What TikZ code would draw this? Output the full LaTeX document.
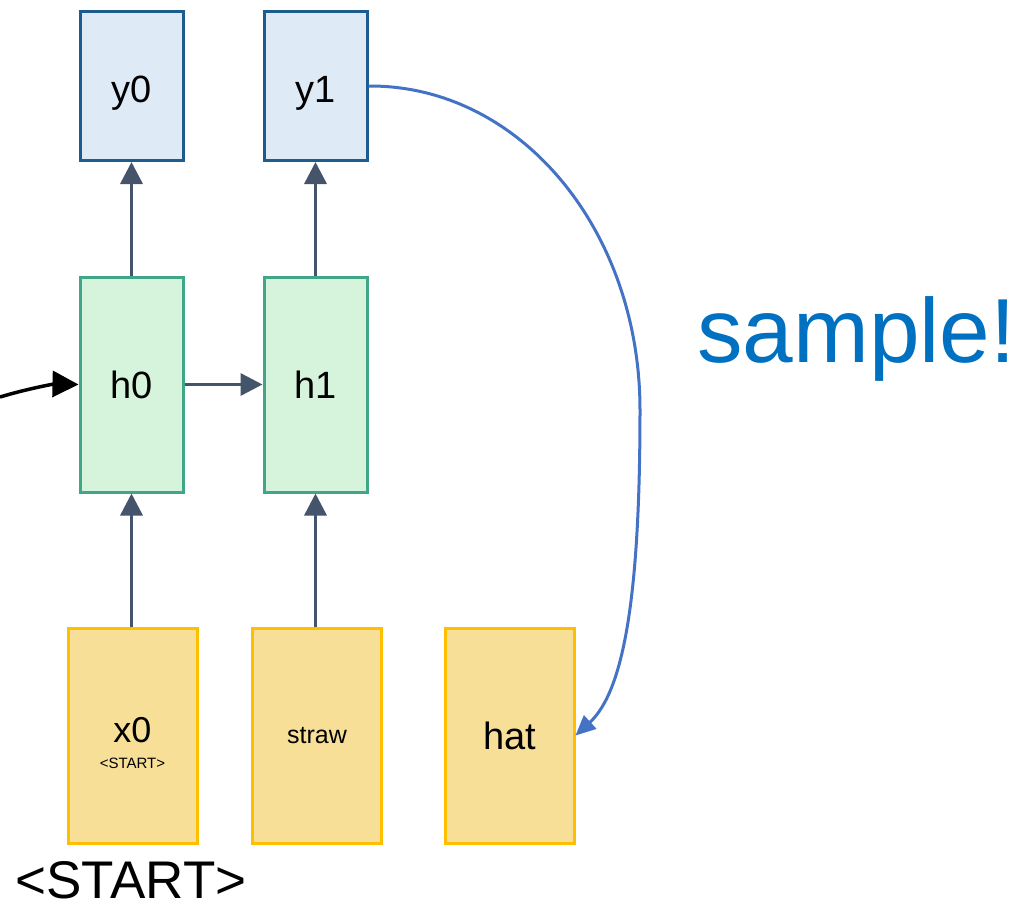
\documentclass[tikz,border=0pt]{standalone}
\usepackage{fontspec}
\setmainfont{Liberation Sans}
\usetikzlibrary{arrows.meta}

\definecolor{ydraw}{HTML}{1F5C8E}
\definecolor{yfill}{HTML}{DEEAF6}
\definecolor{hdraw}{HTML}{3FA688}
\definecolor{hfill}{HTML}{D5F4DB}
\definecolor{xdraw}{HTML}{FFBF00}
\definecolor{xfill}{HTML}{F8DF98}
\definecolor{linkgray}{HTML}{44546A}
\definecolor{sampleblue}{HTML}{4472C4}
\definecolor{textblue}{HTML}{0070C0}

\begin{document}
\begin{tikzpicture}[x=1pt, y=-1pt,
  ybox/.style={draw=ydraw, fill=yfill, line width=3pt, minimum width=103pt,
               minimum height=149pt, inner sep=0pt, font=\fontsize{38}{40}\selectfont},
  hbox/.style={draw=hdraw, fill=hfill, line width=3pt, minimum width=103pt,
               minimum height=215pt, inner sep=0pt, font=\fontsize{38}{40}\selectfont},
  xbox/.style={draw=xdraw, fill=xfill, line width=3pt, minimum width=129pt,
               minimum height=215pt, inner sep=0pt, font=\fontsize{38}{40}\selectfont},
  link/.style={draw=linkgray, line width=3.5pt,
               -{Triangle[length=22pt, width=22pt]}}]
  \useasboundingbox (0,0) rectangle (1026,908);

  % outputs
  \node[ybox] (y0) at (131.5,86) {};
  \node[ybox] (y1) at (315.5,86) {};
  \node[font=\fontsize{38}{40}\selectfont, anchor=base] (y0lbl) at (131.5,102) {y0};
  \node[font=\fontsize{38}{40}\selectfont, anchor=base] (y1lbl) at (315.5,102) {y1};
  % hidden states
  \node[hbox] (h0) at (131.5,384.5) {h0};
  \node[hbox] (h1) at (315.5,384.5) {h1};
  % inputs
  \node[xbox] (x0) at (132.5,735.5) {};
  \node[font=\fontsize{36}{38}\selectfont, anchor=base] (x0lbl) at (132.5,742) {x0};
  \node[font=\fontsize{15}{16}\selectfont, anchor=base] (x0tag) at (132.5,768) {<START>};
  \node[xbox, font=\fontsize{25}{27}\selectfont] (straw) at (317,735.5) {straw};
  \node[xbox] (hat) at (509.5,735.5) {hat};

  % labels
  \node[font=\fontsize{53}{55}\selectfont, anchor=base] (startlbl) at (131,898) {<START>};
  \node[font=\fontsize{91}{93}\selectfont, text=textblue, anchor=base west, inner sep=0pt]
    (samplelbl) at (697,362) {sample!};

  % connections
  \draw[link] (x0.north -| h0.south) -- (h0.south);
  \draw[link] (straw.north -| h1.south) -- (h1.south);
  \draw[link] (h0.north) -- (y0.south);
  \draw[link] (h1.north) -- (y1.south);
  \draw[link] (h0.east) -- (h1.west);

  % incoming state
  \coordinate (prev) at (0,397);
  \draw[line width=3.5pt, -{Triangle[length=26pt, width=26pt]}]
    (prev) .. controls (30,388) and (55,384) .. (h0.west);

  % sampled word fed back
  \draw[draw=sampleblue, line width=3pt, -{Triangle[length=20pt, width=18pt]}]
    (y1.east) .. controls (520,85) and (640,230) .. (640,410)
    .. controls (640,590) and (625,690) .. (hat.east);
\end{tikzpicture}
\end{document}
